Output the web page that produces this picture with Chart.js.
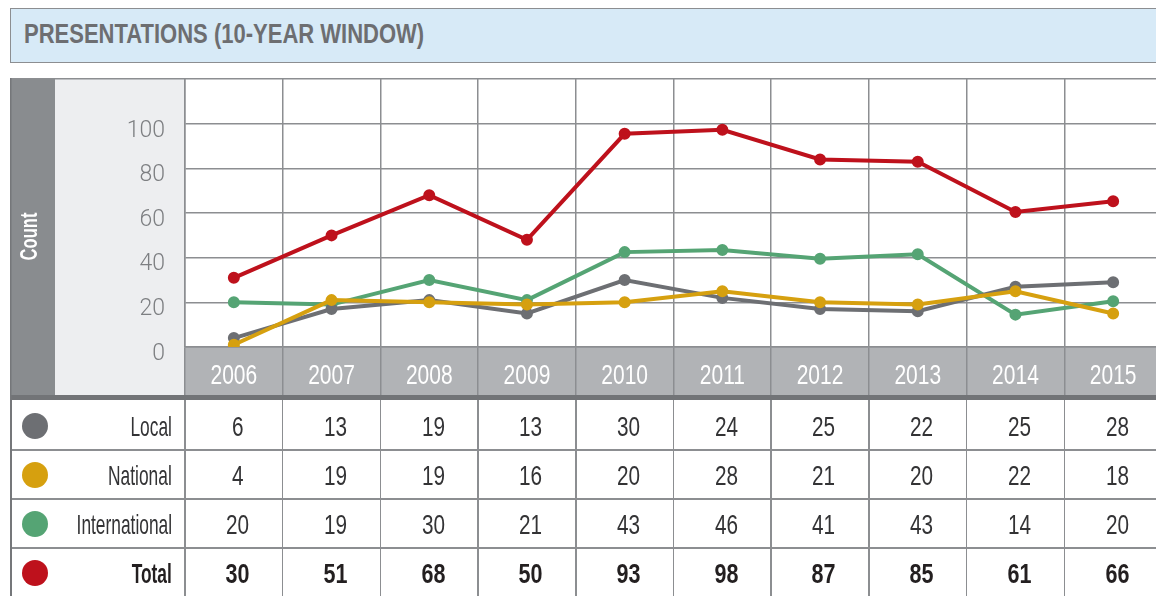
<!DOCTYPE html>
<html>
<head>
<meta charset="utf-8">
<script src="https://cdn.jsdelivr.net/npm/chart.js@4.4.1/dist/chart.umd.min.js"></script>
<style>
  body { margin: 0; width: 1156px; height: 596px; overflow: hidden; background: #fff; position: relative; }
  #title {
    position: absolute; left: 10px; top: 8px; width: 1170px; height: 55px; box-sizing: border-box;
    background: #d7eaf7; border: 1px solid #8c8e91;
    font: bold 27px "Liberation Sans", Arial, sans-serif; color: #6d6e71;
    line-height: 50px; padding-left: 13px; white-space: nowrap;
  }
  #title span { display: inline-block; transform: scaleX(0.815); transform-origin: left center; }
  #wrap { position: absolute; left: 10px; top: 78px; width: 1160px; height: 322px; }
  #table { position: absolute; left: 0; top: 0; width: 1156px; height: 596px; pointer-events: none; }
  .hline, .vline { position: absolute; background: #8c8e91; }
  .dot { position: absolute; width: 26px; height: 26px; border-radius: 50%; }
  .lab, .num {
    position: absolute; height: 49px; white-space: nowrap;
    font: 28px "Liberation Sans", Arial, sans-serif; color: #333335; line-height: 52px;
  }
  .lab { left: 0; width: 172px; text-align: right; }
  .lab span { display: inline-block; transform: scaleX(0.62); transform-origin: right center; }
  .num { text-align: center; box-sizing: border-box; padding-left: 8px; }
  .num span { display: inline-block; transform: scaleX(0.74); }
  .bold { font-weight: bold; color: #231f20; }
  .num.bold span { transform: scaleX(0.77); }
</style>
</head>
<body>
<div id="title"><span>PRESENTATIONS (10-YEAR WINDOW)</span></div>
<div id="wrap"><canvas id="presChart" width="1160" height="322"></canvas></div>
<div id="table"></div>
<script>
// categories
const years = ['2006', '2007', '2008', '2009', '2010', '2011', '2012', '2013', '2014', '2015'];
const yTicks = [0, 20, 40, 60, 80, 100];

// values as plotted on the lines
const lineLocal = [4, 17, 21, 15, 30, 22, 17, 16, 27, 29];
const lineNational = [1, 21, 20, 19, 20, 25, 20, 19, 25, 15];
const lineInternational = [20, 19, 30, 21, 42.5, 43.5, 39.5, 41.5, 14.5, 20.5];
const lineTotal = [31, 50, 68, 48, 95.5, 97.3, 84, 83, 60.5, 65.3];

// values printed in the table
const tableLocal = [6, 13, 19, 13, 30, 24, 25, 22, 25, 28];
const tableNational = [4, 19, 19, 16, 20, 28, 21, 20, 22, 18];
const tableInternational = [20, 19, 30, 21, 43, 46, 41, 43, 14, 20];
const tableTotal = [30, 51, 68, 50, 93, 98, 87, 85, 61, 66];

const colLocal = '#6d6f73';
const colNational = '#d6a00f';
const colInternational = '#55a474';
const colTotal = '#be111c';
const gridColor = '#8c8e91';

const BAND = 48;

// background panels, year band and the "Count" label
const panelPlugin = {
    id: 'panel',
    beforeDraw(chart) {
        const { ctx, chartArea: a, width, height } = chart;
        ctx.save();
        ctx.fillStyle = '#898c8f';
        ctx.fillRect(0, 0, 45, a.bottom + BAND);
        ctx.fillStyle = '#edeef0';
        ctx.fillRect(45, 0, a.left - 45, a.bottom + BAND);
        ctx.fillStyle = '#b1b3b6';
        ctx.fillRect(a.left, a.bottom, width - a.left, BAND);
        ctx.fillStyle = '#727477';
        ctx.fillRect(0, a.bottom + BAND, width, height - a.bottom - BAND);

        ctx.translate(21, (a.bottom + BAND) / 2);
        ctx.rotate(-Math.PI / 2);
        ctx.scale(0.72, 1);
        ctx.fillStyle = '#fff';
        ctx.font = 'bold 23px "Liberation Sans", Arial, sans-serif';
        ctx.textAlign = 'center';
        ctx.textBaseline = 'middle';
        ctx.fillText('Count', 0, 0);
        ctx.restore();
    },
    afterDraw(chart) {
        const { ctx, chartArea: a, width, height } = chart;
        const xs = chart.scales.x;
        ctx.save();
        // year labels inside the band, condensed
        ctx.fillStyle = '#fff';
        ctx.font = '28px "Liberation Sans", Arial, sans-serif';
        ctx.textAlign = 'center';
        ctx.textBaseline = 'middle';
        years.forEach((y, i) => {
            ctx.save();
            ctx.translate(xs.getPixelForValue(i), a.bottom + 29);
            ctx.scale(0.75, 1);
            ctx.fillText(y, 0, 0);
            ctx.restore();
        });
        ctx.fillStyle = gridColor;
        ctx.fillRect(0, 0, width, 1.5);
        ctx.fillStyle = '#75777a';
        ctx.fillRect(0, 0, 1.5, height);
        ctx.restore();
    }
};

function series(label, data, color, order) {
    return {
        label: label,
        data: data,
        borderColor: color,
        backgroundColor: color,
        pointBackgroundColor: color,
        pointBorderColor: color,
        borderWidth: 4,
        pointRadius: 4,
        tension: 0,
        order: order
    };
}

const chart = new Chart(document.getElementById('presChart'), {
    type: 'line',
    data: {
        labels: years,
        datasets: [
            series('Local', lineLocal, colLocal, 2),
            series('National', lineNational, colNational, 1),
            series('International', lineInternational, colInternational, 3),
            series('Total', lineTotal, colTotal, 0)
        ]
    },
    options: {
        responsive: false,
        animation: false,
        devicePixelRatio: 1,
        layout: { autoPadding: false, padding: { left: 45, right: 8, top: 0, bottom: 0 } },
        plugins: { legend: { display: false }, tooltip: { enabled: false } },
        scales: {
            x: {
                offset: true,
                grid: { offset: true, color: gridColor, lineWidth: 1.5, drawTicks: true, tickLength: BAND },
                border: { color: gridColor, width: 1.5 },
                ticks: { display: false, autoSkip: false },
                afterFit(s) { s.height = 53; s.paddingLeft = 0; s.paddingRight = 0; }
            },
            y: {
                min: 0,
                max: 120.5,
                afterBuildTicks(s) { s.ticks = yTicks.map(v => ({ value: v })); },
                grid: { color: gridColor, lineWidth: 1.5, drawTicks: false },
                border: { color: gridColor, width: 1.5 },
                ticks: {
                    color: '#7d7f82',
                    font: { family: 'Roboto, "Liberation Sans", sans-serif', size: 23, weight: 300 },
                    padding: 20,
                    labelOffset: 7
                },
                afterFit(s) { s.width = 130; s.paddingTop = 0; s.paddingBottom = 0; }
            }
        }
    },
    plugins: [panelPlugin]
});

// data table under the chart, columns taken from the chart's x scale
const table = document.getElementById('table');
const xs = chart.scales.x;
const offsetX = 10;
const colW = xs.getPixelForValue(1) - xs.getPixelForValue(0);
const rows = [
    { name: 'Local', color: colLocal, values: tableLocal, bold: false },
    { name: 'National', color: colNational, values: tableNational, bold: false },
    { name: 'International', color: colInternational, values: tableInternational, bold: false },
    { name: 'Total', color: colTotal, values: tableTotal, bold: true }
];

function add(cls, style, text) {
    const d = document.createElement('div');
    d.className = cls;
    Object.assign(d.style, style);
    if (text !== undefined) {
        const s = document.createElement('span');
        s.textContent = text;
        d.appendChild(s);
    }
    table.appendChild(d);
    return d;
}

rows.forEach((row, r) => {
    const top = 401 + r * 49;
    if (r > 0) add('hline', { left: '10px', top: (top - 1) + 'px', width: '1146px', height: '1.5px' });
    add('dot', { left: '22px', top: (top + 12) + 'px', background: row.color });
    add('lab' + (row.bold ? ' bold' : ''), { top: top + 'px' }, row.name);
    years.forEach((y, i) => {
        const cx = offsetX + xs.getPixelForValue(i);
        add('num' + (row.bold ? ' bold' : ''), {
            left: (cx - colW / 2) + 'px', top: top + 'px', width: colW + 'px'
        }, String(row.values[i]));
    });
});

add('vline', { left: '10px', top: '400px', width: '1.5px', height: '196px', background: '#75777a' });
years.forEach((y, i) => {
    const bx = offsetX + xs.getPixelForValue(i) - colW / 2;
    add('vline', { left: (bx - 0.75) + 'px', top: '400px', width: '1.5px', height: '196px' });
});
</script>
</body>
</html>
